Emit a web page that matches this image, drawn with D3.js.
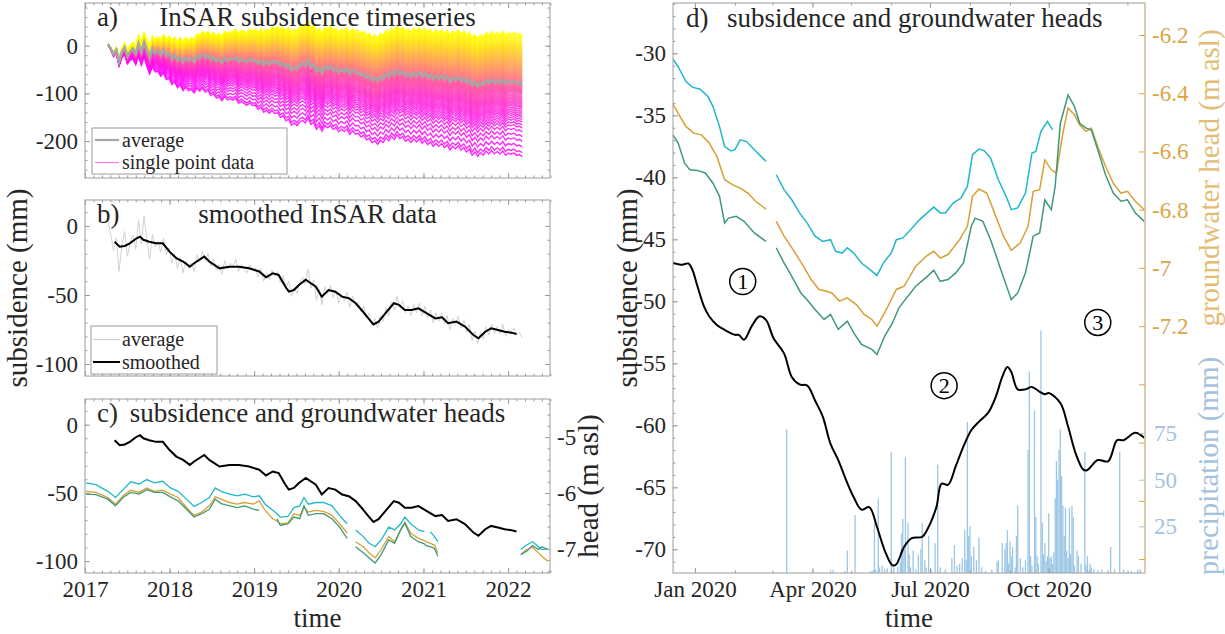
<!DOCTYPE html>
<html>
<head>
<meta charset="utf-8">
<script src="https://cdn.jsdelivr.net/npm/d3@7"></script>
<style>
  html, body { margin: 0; padding: 0; background: #fff; }
  svg { display: block; font-family: 'Liberation Serif', 'Times New Roman', serif; }
</style>
</head>
<body>
<svg id="chart" width="1225" height="634"></svg>
<script>
// ---------------- data ----------------
// InSAR network average, one acquisition every 12 days
const insarStart = "2017-04-10";
const insarStepDays = 12;
const insarAverage = [
  3, -6, -18, -9, -33, -14, -4, -22, -12, -7,
  -17, 4, -13, 7, -10, -24, -6, -15, -11, -19,
  -9, -21, -16, -27, -20, -31, -23, -34, -25, -31,
  -27, -33, -21, -26, -18, -25, -20, -29, -24, -32,
  -28, -35, -25, -31, -27, -29, -24, -33, -28, -31,
  -34, -28, -32, -30, -37, -31, -40, -34, -39, -32,
  -36, -33, -41, -36, -45, -40, -51, -45, -49, -41,
  -37, -42, -31, -45, -39, -54, -46, -57, -44, -49,
  -43, -52, -47, -56, -50, -54, -48, -59, -51, -57,
  -55, -62, -58, -67, -63, -72, -67, -74, -65, -69,
  -59, -65, -55, -61, -51, -59, -54, -63, -58, -65,
  -57, -63, -56, -65, -58, -67, -61, -70, -63, -69,
  -63, -71, -65, -75, -67, -72, -65, -74, -68, -77,
  -71, -83, -76, -85, -77, -82, -73, -79, -71, -78,
  -73, -78, -71, -80, -75, -77, -74, -79, -77, -81
];

// single points: deviation from the average reached at the last epoch (mm)
const pointEndOffsets = [
  103, 100, 97, 94, 91, 88, 85, 82, 80, 78, 76, 74, 72, 70, 68, 66, 64, 62, 60, 58,
  56, 54, 52, 50, 48, 46, 44, 42, 40, 38, 36, 34, 32, 30, 28, 26, 24, 22, 20, 18,
  16, 14, 12, 10, 8, 6, 4, 2, 0, -2, -4, -6, -8, -10, -12, -14, -16, -18, -20, -23,
  -26, -29, -32, -35, -38, -41, -44, -47, -50, -54, -58, -62, -66, -70, -75, -80,
  -86, -92, -100, -110, -120, -132, -144, -152
];
// share of that deviation already reached over time
const spreadYears = [2017.27, 2017.6, 2018.0, 2018.5, 2019.0, 2019.5, 2020.0, 2020.5, 2021.0, 2021.5, 2022.2];
const spreadShare = [0, 0.15, 0.35, 0.5, 0.62, 0.78, 0.82, 0.88, 0.92, 0.96, 1.0];

// smoothed subsidence (decimal year, mm)
const smoothYears = [
  2017.35, 2017.41, 2017.47, 2017.53, 2017.61, 2017.65, 2017.69, 2017.76, 2017.84, 2017.92,
  2018.00, 2018.08, 2018.16, 2018.24, 2018.29, 2018.35, 2018.41, 2018.47, 2018.59, 2018.71,
  2018.82, 2018.94, 2019.06, 2019.14, 2019.22, 2019.29, 2019.37, 2019.41, 2019.47, 2019.53,
  2019.61, 2019.73, 2019.80, 2019.88, 2019.96, 2020.04, 2020.12, 2020.20, 2020.27, 2020.35,
  2020.41, 2020.47, 2020.55, 2020.65, 2020.71, 2020.78, 2020.86, 2020.94, 2021.04, 2021.14,
  2021.22, 2021.29, 2021.39, 2021.49, 2021.59, 2021.65, 2021.73, 2021.80, 2021.88, 2021.96,
  2022.04, 2022.10
];
const smoothValues = [
  -11.4, -15, -14.5, -12.6, -8.9, -7.7, -10, -11.4, -12.6, -12.6,
  -18.6, -23.4, -25.8, -29.5, -27, -24.6, -22.2, -25.8, -30.7, -29.5,
  -29.5, -30.7, -33, -37.2, -34.3, -35.5, -44, -47.6, -46.4, -42.8,
  -39, -44, -51.2, -46.4, -47.6, -51.2, -52.4, -56, -60.9, -67,
  -71.3, -69.3, -63.3, -56, -57.2, -60.9, -60.9, -59.7, -63.3, -67,
  -66.2, -70.5, -69.3, -72.9, -79, -81.4, -76.6, -74.2, -75.4, -76.6,
  -77.3, -78.3
];

// groundwater heads for the full period (decimal year, m asl; null = no record)
const headYearsC = [
  2017.01, 2017.13, 2017.27, 2017.36, 2017.45, 2017.54, 2017.64, 2017.73, 2017.82, 2017.92,
  2018.01, 2018.10, 2018.20, 2018.29, 2018.38, 2018.47, 2018.54, 2018.61, 2018.71, 2018.80,
  2018.89, 2018.99, 2019.06, 2019.13, 2019.22, 2019.27, 2019.31, 2019.40, 2019.47, 2019.54,
  2019.59, 2019.64, 2019.73, 2019.82, 2019.92, 2020.01, 2020.10, 2020.15, 2020.20, 2020.29,
  2020.36, 2020.43, 2020.50, 2020.59, 2020.66, 2020.73, 2020.78, 2020.85, 2020.94, 2021.01,
  2021.03, 2021.08, 2021.13, 2021.17, 2021.60, 2022.15, 2022.22, 2022.29, 2022.36, 2022.40,
  2022.47
];
const headCyanC = [
  -5.82, -5.85, -5.97, -6.08, -5.94, -5.80, -5.84, -5.76, -5.82, -5.79,
  -5.91, -5.97, -6.11, -6.24, -6.17, -6.08, -5.91, -5.97, -6.02, -6.05,
  -6.02, -6.07, -6.05, -6.20, -6.31, -6.37, -6.43, -6.42, -6.26, -6.23,
  -6.08, -6.20, -6.17, -6.17, -6.23, -6.40, -6.55, null, -6.66, -6.78,
  -6.90, -6.96, -6.84, -6.61, -6.66, -6.55, -6.43, -6.55, -6.66, -6.69,
  null, -6.69, -6.78, -6.87, null, -7.01, -6.93, -6.87, -6.96, -7.01,
  -7.00
];
const headOrangeC = [
  -5.97, -5.99, -6.08, -6.20, -6.05, -5.95, -5.99, -5.91, -5.97, -5.95,
  -6.02, -6.08, -6.26, -6.40, -6.34, -6.23, -6.07, -6.11, -6.17, -6.20,
  -6.17, -6.20, -6.14, -6.31, -6.46, -6.50, -6.55, -6.54, -6.37, -6.40,
  -6.26, -6.34, -6.31, -6.33, -6.40, -6.55, -6.72, null, -6.87, -6.96,
  -7.07, -7.16, -7.01, -6.78, -6.87, -6.66, -6.52, -6.72, -6.81, -6.85,
  -6.87, -6.90, -6.93, -7.07, null, -7.10, -7.01, -6.97, -7.07, -7.13,
  -7.22
];
const headGreenC = [
  -6.02, -6.03, -6.11, -6.23, -6.08, -5.99, -6.02, -5.94, -5.99, -5.99,
  -6.07, -6.14, -6.29, -6.43, -6.37, -6.29, -6.11, -6.19, -6.23, -6.26,
  -6.23, -6.29, -6.31, null, null, -6.46, -6.58, -6.55, -6.43, -6.46,
  -6.23, -6.40, -6.37, -6.37, -6.46, -6.61, -6.81, null, -6.96, -7.07,
  -7.16, -7.25, -7.10, -6.84, -6.90, -6.66, -6.54, -6.78, -6.87, -6.91,
  -6.94, -6.96, -6.99, -7.13, null, -7.10, -7.04, -6.94, -7.01, -6.96,
  -7.01
];

// 2020 detail: days counted from 1 Jan 2020
const subsDays = [
  -17, -10, -5, -2, 2, 7, 11, 17, 23, 31, 34, 38, 44, 50, 55, 61, 69, 75, 81, 87,
  93, 99, 105, 111, 117, 123, 129, 135, 141, 147, 153, 156, 162, 168, 176, 180, 187, 191, 196, 202,
  208, 214, 220, 227, 233, 238, 242, 245, 250, 256, 261, 267, 271, 274, 283, 289, 295, 301, 304, 312,
  320, 327, 332, 341, 348
];
const subsValues = [
  -46.9, -47.05, -46.95, -47.45, -48.8, -50.4, -51.2, -51.9, -52.3, -52.7,
  -52.7, -53.1, -52.0, -51.2, -51.5, -53.0, -54.2, -56.1, -56.7, -56.8,
  -58.0, -59.3, -61.5, -62.8, -64.4, -65.8, -66.8, -66.6, -68.2, -70.1,
  -71.3, -71.2, -69.8, -69.1, -69.0, -68.4, -66.6, -64.7, -64.8, -63.3,
  -61.7, -60.4, -59.7, -59.0, -57.7, -56.1, -55.3, -55.7, -57.1, -57.1,
  -56.9, -57.3, -57.5, -57.4, -58.2, -60.1, -62.3, -63.6, -63.6, -62.8,
  -62.9, -61.2, -61.2, -60.6, -61.0
];

const cyanDays = [
  -17, -13, -7, -2, 4, 10, 14, 19, 23, 28, 31, 35, 40, 46, 55, 59, 63, 69, 75, 81,
  87, 93, 99, 105, 109, 114, 118, 123, 129, 137, 141, 146, 152, 156, 161, 167, 174, 180, 185, 190,
  194, 200, 206, 211, 215, 220, 224, 229, 235, 241, 245, 250, 256, 261, 264, 268, 273, 277
];
const cyanValues = [
  -6.283, -6.309, -6.36, -6.379, -6.386, -6.411, -6.446, -6.514, -6.583, -6.598,
  -6.594, -6.56, -6.566, -6.594, -6.634, null, -6.68, -6.731, -6.766, -6.811,
  -6.846, -6.891, -6.909, -6.903, -6.943, -6.949, -6.931, -6.949, -6.983, -7.011,
  -7.026, -6.983, -6.949, -6.903, -6.897, -6.869, -6.834, -6.811, -6.791, -6.811,
  -6.811, -6.777, -6.76, -6.72, -6.611, -6.592, -6.597, -6.623, -6.697, -6.754,
  -6.8, -6.794, -6.743, -6.606, -6.6, -6.531, -6.497, -6.526
];
const orangeDays = [
  -17, -13, -7, -1, 5, 11, 17, 23, 29, 35, 41, 47, 55, 59, 63, 69, 76, 84, 90, 96,
  102, 106, 112, 118, 125, 131, 137, 141, 147, 156, 162, 171, 179, 185, 190, 196, 205, 211, 215, 220,
  226, 232, 239, 245, 252, 258, 262, 267, 271, 276, 280, 285, 289, 294, 298, 303, 307, 312, 318, 324,
  330, 335, 341, 348
];
const orangeValues = [
  -6.437, -6.469, -6.514, -6.537, -6.543, -6.571, -6.617, -6.697, -6.714, -6.726,
  -6.743, -6.771, -6.798, null, -6.84, -6.891, -6.937, -6.994, -7.04, -7.074,
  -7.08, -7.086, -7.114, -7.103, -7.126, -7.16, -7.177, -7.2, -7.154, -7.074,
  -7.063, -6.994, -6.96, -6.943, -6.966, -6.954, -6.903, -6.857, -6.754, -6.729,
  -6.743, -6.811, -6.891, -6.94, -6.914, -6.857, -6.737, -6.731, -6.629, -6.663,
  -6.674, -6.537, -6.451, -6.474, -6.509, -6.531, -6.52, -6.583, -6.651, -6.709,
  -6.743, -6.737, -6.771, -6.8
];
const greenDays = [
  -17, -13, -8, -4, 2, 8, 14, 19, 23, 26, 32, 38, 46, 55, 59, 63, 69, 75, 82, 87,
  93, 100, 105, 111, 118, 123, 129, 137, 141, 147, 153, 158, 162, 171, 180, 185, 190, 196, 202, 208,
  214, 217, 223, 229, 236, 245, 250, 256, 262, 267, 271, 276, 279, 283, 289, 294, 298, 303, 307, 312,
  318, 324, 330, 335, 341, 348
];
const greenValues = [
  -6.543, -6.571, -6.64, -6.663, -6.665, -6.674, -6.709, -6.754, -6.846, -6.829,
  -6.823, -6.84, -6.88, -6.909, null, -6.931, -6.983, -7.029, -7.086, -7.11,
  -7.143, -7.177, -7.16, -7.211, -7.183, -7.223, -7.263, -7.28, -7.297, -7.234,
  -7.189, -7.137, -7.114, -7.063, -7.029, -7.008, -7.046, -7.04, -7.017, -6.983,
  -6.857, -6.829, -6.84, -6.903, -6.994, -7.109, -7.086, -7.017, -6.891, -6.88,
  -6.766, -6.8, -6.72, -6.503, -6.406, -6.446, -6.503, -6.52, -6.526, -6.594,
  -6.68, -6.743, -6.771, -6.766, -6.811, -6.84
];

// daily precipitation 2020 (day from 1 Jan, mm)
const rainDays = [
  71, 105, 107, 116, 118, 124, 136, 138, 139, 140, 142, 143, 145, 147, 149, 152, 154, 157, 159, 160,
  161, 162, 163, 165, 166, 167, 169, 171, 173, 175, 176, 178, 179, 181, 183, 186, 188, 190, 194, 199,
  201, 203, 205, 207, 209, 210, 211, 212, 213, 214, 216, 218, 220, 222, 225, 230, 234, 235, 238, 240,
  241, 242, 243, 244, 245, 246, 248, 249, 250, 252, 254, 256, 258, 259, 260, 261, 263, 264, 265, 266,
  268, 269, 270, 271, 272, 273, 274, 275, 276, 277, 278, 279, 280, 281, 282, 283, 284, 285, 286, 287,
  288, 289, 290, 291, 292, 293, 294, 296, 297, 299, 302, 303, 304, 306, 307, 309, 312, 315, 320, 322,
  325, 329, 332, 338, 343, 345
];
const rainMM = [
  77, 1.5, 1.6, 1, 12, 31, 1, 1.5, 27, 2, 40, 3, 4, 2, 2.5, 65, 3, 3.5, 6, 21,
  29, 13, 62, 27, 10, 3, 12, 2, 10, 13, 27, 7, 3, 20, 2, 16, 58, 3, 2, 8,
  15, 4, 5, 8, 23, 7, 81, 20, 25, 9, 14, 7, 19, 3, 1, 2, 6, 7, 16, 13,
  16, 23, 5, 17, 9, 14, 3, 20, 36, 8, 3, 7, 66, 108, 9, 4, 87, 30, 9, 5,
  130, 27, 10, 16, 6, 9, 32, 8, 9, 5, 11, 40, 60, 50, 66, 77, 52, 36, 20, 35,
  12, 8, 35, 10, 36, 30, 4, 12, 9, 5, 65, 4, 9, 5, 3, 2, 1.5, 2, 1.5, 14,
  2, 65, 2, 1, 2, 2
];

// circled period markers in the 2020 panel (day, mm)
const markerLabels = ["1", "2", "3"];
const markerDays = [37, 193, 312];
const markerValues = [-48.4, -56.8, -51.7];

// axis ticks
const yearTicks = [2017, 2018, 2019, 2020, 2021, 2022];
const ticksA = [-200, -100, 0];
const ticksB = [-100, -50, 0];
const ticksHeadC = [-7, -6, -5];
const ticksD = [-70, -65, -60, -55, -50, -45, -40, -35, -30];
const ticksHeadD = [-7.2, -7, -6.8, -6.6, -6.4, -6.2];
const ticksHeadDExtra = [-8, -7.8, -7.6, -7.4];
const ticksRain = [25, 50, 75];

// ---------------- drawing ----------------
const svg = d3.select("#chart");
const FONT = "'Liberation Serif', 'Times New Roman', serif";
const FRAME = "#9c9c9c";
const TXT = "#262626";
const C_CYAN = "#1fb8ca", C_ORANGE = "#d7a035", C_GREEN = "#3f9979";
const C_HEADAX = "#d9a545", C_HEADLAB = "#e3bd73", C_RAINAX = "#a4c2dc", C_RAIN = "#9cc7e5";

const yearToDate = y => {
  const yr = Math.floor(y);
  const a = Date.UTC(yr, 0, 1), b = Date.UTC(yr + 1, 0, 1);
  return new Date(a + (y - yr) * (b - a));
};
const base2020 = Date.UTC(2020, 0, 1);
const dayToDate = d => new Date(base2020 + d * 864e5);

const PA = { l: 85, r: 550, t: 3, b: 178 };
const PB = { l: 85, r: 550, t: 200, b: 376 };
const PC = { l: 85, r: 550, t: 399, b: 573 };
const PD = { l: 673, r: 1145, t: 3, b: 573 };

const xYears = d3.scaleUtc().domain([Date.UTC(2017, 0, 1), Date.UTC(2022, 6, 1)]).range([PA.l, PA.r]);
const yA = d3.scaleLinear().domain([-277.6, 89.6]).range([PA.b, PA.t]);
const yB = d3.scaleLinear().domain([-108.7, 18.8]).range([PB.b, PB.t]);
const yC = d3.scaleLinear().domain([-108.7, 18.8]).range([PC.b, PC.t]);
const yCHead = d3.scaleLinear().domain([-7.43, -4.32]).range([PC.b, PC.t]);
const xD = d3.scaleUtc().domain([Date.UTC(2019, 11, 15), Date.UTC(2020, 11, 14, 14)]).range([PD.l, PD.r]);
const yD = d3.scaleLinear().domain([-71.91, -25.94]).range([PD.b, PD.t]);
const yDHead = d3.scaleLinear().domain([-8.048, -6.09]).range([PD.b, PD.t]);
const yDRain = d3.scaleLinear().domain([0, 305.5]).range([PD.b, PD.t]);

// series records
const insarDates = insarAverage.map((_, i) => d3.utcDay.offset(new Date(insarStart + "T00:00:00Z"), i * insarStepDays));
const avgRecs = insarAverage.map((v, i) => ({ t: insarDates[i], v }));
const smoothRecs = smoothYears.map((y, i) => ({ t: yearToDate(y), v: smoothValues[i] }));
const headC = [headCyanC, headOrangeC, headGreenC].map(arr => headYearsC.map((y, i) => ({ t: yearToDate(y), v: arr[i] })));
const subsRecs = subsDays.map((d, i) => ({ t: dayToDate(d), v: subsValues[i] }));
const headD = [[cyanDays, cyanValues], [orangeDays, orangeValues], [greenDays, greenValues]]
  .map(([ds, vs]) => ds.map((d, i) => ({ t: dayToDate(d), v: vs[i] })));

// clip paths
const defs = svg.append("defs");
function clip(id, P) {
  defs.append("clipPath").attr("id", id).append("rect")
    .attr("x", P.l).attr("y", P.t).attr("width", P.r - P.l).attr("height", P.b - P.t);
  return `url(#${id})`;
}
const clipA = clip("clipA", PA), clipB = clip("clipB", PB), clipC = clip("clipC", PC), clipD = clip("clipD", PD);

function axis(P, scale, orient, values, opt = {}) {
  const { len = 5, labels = false, fmt = String, color = FRAME, textColor = TXT, pad = 7, size = 23 } = opt;
  const fn = { left: d3.axisLeft, right: d3.axisRight, top: d3.axisTop, bottom: d3.axisBottom }[orient];
  const pos = { left: [P.l, 0], right: [P.r, 0], top: [0, P.t], bottom: [0, P.b] }[orient];
  const g = svg.append("g").attr("transform", `translate(${pos[0]},${pos[1]})`);
  g.call(fn(scale).tickValues(values).tickSizeInner(-len).tickSizeOuter(0).tickPadding(pad)
    .tickFormat(labels ? fmt : () => ""));
  g.select(".domain").remove();
  g.attr("font-family", FONT).attr("font-size", size);
  g.selectAll(".tick line").attr("stroke", color).attr("stroke-width", 1);
  g.selectAll(".tick text").attr("fill", textColor);
  return g;
}
function frame(P, rightColor) {
  svg.append("rect").attr("x", P.l).attr("y", P.t).attr("width", P.r - P.l).attr("height", P.b - P.t)
    .attr("fill", "none").attr("stroke", FRAME).attr("stroke-width", 1);
  if (rightColor) {
    svg.append("line").attr("x1", P.r).attr("x2", P.r).attr("y1", P.t).attr("y2", P.b)
      .attr("stroke", rightColor).attr("stroke-width", 1);
  }
}
function text(x, y, str, opt = {}) {
  const { size = 27, anchor = "start", fill = TXT, rotate = false } = opt;
  const t = svg.append("text").attr("font-family", FONT).attr("font-size", size)
    .attr("fill", fill).attr("text-anchor", anchor).text(str);
  if (rotate) t.attr("transform", `translate(${x},${y}) rotate(-90)`).attr("dy", "0.35em");
  else t.attr("x", x).attr("y", y);
  return t;
}

const yearDates = yearTicks.map(y => Date.UTC(y, 0, 1));
const minorYearDates = d3.range(2017, 2022.55, 0.1).map(y => yearToDate(Math.round(y * 10) / 10));
function timeAxes(P, withLabels) {
  axis(P, xYears, "bottom", minorYearDates, { len: 2.5 });
  axis(P, xYears, "top", minorYearDates, { len: 2.5 });
  axis(P, xYears, "bottom", yearDates, { labels: withLabels, fmt: d3.utcFormat("%Y"), pad: 8 });
  axis(P, xYears, "top", yearDates);
}

// ---------- panel a ----------
const gA = svg.append("g").attr("clip-path", clipA);
const share = d3.scaleLinear().domain(spreadYears).range(spreadShare).clamp(true);
const tYear = t => 1970 + (t - Date.UTC(1970, 0, 1)) / (365.25 * 864e5);
const spring = d3.interpolateRgb("#ff00ff", "#ffff00");
const lineA = d3.line().x(d => xYears(d.t)).y(d => yA(d.v));
const nPts = pointEndOffsets.length;
pointEndOffsets.slice().reverse().forEach((off, k) => {
  const recs = avgRecs.map(d => ({ t: d.t, v: d.v + off * share(tYear(d.t)) }));
  gA.append("path").datum(recs).attr("d", lineA).attr("fill", "none")
    .attr("stroke", spring(k / (nPts - 1))).attr("stroke-width", 1.4).attr("stroke-opacity", 0.85);
});
gA.append("path").datum(avgRecs).attr("d", lineA).attr("fill", "none")
  .attr("stroke", "#a6a6a6").attr("stroke-width", 2.6);
frame(PA);
timeAxes(PA, false);
const minorA = d3.range(-260, 81, 20);
axis(PA, yA, "left", minorA, { len: 2.5 });
axis(PA, yA, "right", minorA, { len: 2.5 });
axis(PA, yA, "left", ticksA, { labels: true });
axis(PA, yA, "right", ticksA);
text(PA.l + 12, PA.t + 23, "a)");
text((PA.l + PA.r) / 2, PA.t + 23, "InSAR subsidence timeseries", { anchor: "middle" });
// legend a
svg.append("rect").attr("x", 92).attr("y", 128).attr("width", 195).attr("height", 46)
  .attr("fill", "#fff").attr("stroke", FRAME);
svg.append("line").attr("x1", 95).attr("x2", 119).attr("y1", 140).attr("y2", 140)
  .attr("stroke", "#a6a6a6").attr("stroke-width", 2.2);
svg.append("line").attr("x1", 95).attr("x2", 119).attr("y1", 162.5).attr("y2", 162.5)
  .attr("stroke", "#ff00ff").attr("stroke-opacity", 0.5).attr("stroke-width", 1.2);
text(122, 146.5, "average", { size: 20 });
text(122, 169, "single point data", { size: 20 });

// ---------- panel b ----------
const gB = svg.append("g").attr("clip-path", clipB);
const lineB = d3.line().x(d => xYears(d.t)).y(d => yB(d.v));
gB.append("path").datum(avgRecs).attr("d", lineB).attr("fill", "none")
  .attr("stroke", "#cdcdcd").attr("stroke-width", 0.9);
gB.append("path").datum(smoothRecs).attr("d", lineB).attr("fill", "none")
  .attr("stroke", "#000").attr("stroke-width", 2);
frame(PB);
timeAxes(PB, false);
const minorB = d3.range(-100, 11, 10);
axis(PB, yB, "left", minorB, { len: 2.5 });
axis(PB, yB, "right", minorB, { len: 2.5 });
axis(PB, yB, "left", ticksB, { labels: true });
axis(PB, yB, "right", ticksB);
text(PB.l + 12, PB.t + 23, "b)");
text((PB.l + PB.r) / 2, PB.t + 23, "smoothed InSAR data", { anchor: "middle" });
svg.append("rect").attr("x", 91).attr("y", 326).attr("width", 126).attr("height", 48)
  .attr("fill", "#fff").attr("stroke", FRAME);
svg.append("line").attr("x1", 93).attr("x2", 120).attr("y1", 339.5).attr("y2", 339.5)
  .attr("stroke", "#cdcdcd").attr("stroke-width", 1);
svg.append("line").attr("x1", 93).attr("x2", 120).attr("y1", 362).attr("y2", 362)
  .attr("stroke", "#000").attr("stroke-width", 2);
text(122, 346, "average", { size: 20 });
text(122, 368.5, "smoothed", { size: 20 });
text(17, (PB.t + PB.b) / 2, "subsidence (mm)", { size: 29, anchor: "middle", rotate: true });

// ---------- panel c ----------
const gC = svg.append("g").attr("clip-path", clipC);
const lineCHead = d3.line().defined(d => d.v !== null).x(d => xYears(d.t)).y(d => yCHead(d.v));
[C_CYAN, C_ORANGE, C_GREEN].forEach((c, i) => {
  gC.append("path").datum(headC[i]).attr("d", lineCHead).attr("fill", "none")
    .attr("stroke", c).attr("stroke-width", 1.3);
});
gC.append("path").datum(smoothRecs).attr("d", d3.line().x(d => xYears(d.t)).y(d => yC(d.v)))
  .attr("fill", "none").attr("stroke", "#000").attr("stroke-width", 2);
frame(PC);
timeAxes(PC, true);
axis(PC, yC, "left", minorB, { len: 2.5 });
axis(PC, yC, "left", ticksB, { labels: true });
axis(PC, yCHead, "right", d3.range(-7.4, -4.39, 0.2).map(v => Math.round(v * 10) / 10), { len: 2.5 });
axis(PC, yCHead, "right", ticksHeadC, { labels: true });
text(PC.l + 12, PC.t + 23, "c)");
text((PC.l + PC.r) / 2, PC.t + 23, "subsidence and groundwater heads", { anchor: "middle" });
text(588, (PC.t + PC.b) / 2, "head (m asl)", { size: 29, anchor: "middle", rotate: true });
text((PC.l + PC.r) / 2, 627, "time", { size: 27, anchor: "middle" });

// ---------- panel d ----------
const gD = svg.append("g").attr("clip-path", clipD);
gD.selectAll("rect.rain").data(rainDays).join("rect").attr("class", "rain")
  .attr("x", d => xD(dayToDate(d)) - 0.65).attr("width", 1.3)
  .attr("y", (d, i) => yDRain(rainMM[i])).attr("height", (d, i) => yDRain(0) - yDRain(rainMM[i]))
  .attr("fill", C_RAIN);
const lineDHead = d3.line().defined(d => d.v !== null).x(d => xD(d.t)).y(d => yDHead(d.v));
[C_CYAN, C_ORANGE, C_GREEN].forEach((c, i) => {
  gD.append("path").datum(headD[i]).attr("d", lineDHead).attr("fill", "none")
    .attr("stroke", c).attr("stroke-width", 1.5);
});
gD.append("path").datum(subsRecs)
  .attr("d", d3.line().curve(d3.curveCatmullRom).x(d => xD(d.t)).y(d => yD(d.v)))
  .attr("fill", "none").attr("stroke", "#000").attr("stroke-width", 2);
markerLabels.forEach((lab, i) => {
  const cx = xD(dayToDate(markerDays[i])), cy = yD(markerValues[i]);
  svg.append("circle").attr("cx", cx).attr("cy", cy).attr("r", 13)
    .attr("fill", "none").attr("stroke", "#000").attr("stroke-width", 1.5);
  svg.append("text").attr("x", cx).attr("y", cy).attr("dy", "0.35em").attr("text-anchor", "middle")
    .attr("font-family", FONT).attr("font-size", 22).attr("fill", "#000").text(lab);
});
frame(PD, "#e6c98d");
const monthDates = d3.range(0, 12).map(m => Date.UTC(2020, m, 1));
const quarterDates = [0, 3, 6, 9].map(m => Date.UTC(2020, m, 1));
axis(PD, xD, "bottom", monthDates, { len: 2.5 });
axis(PD, xD, "top", monthDates, { len: 2.5 });
axis(PD, xD, "bottom", quarterDates, { labels: true, fmt: d3.utcFormat("%b %Y"), pad: 8 });
axis(PD, xD, "top", quarterDates);
axis(PD, yD, "left", d3.range(-71, -25, 1), { len: 2.5 });
axis(PD, yD, "left", ticksD, { labels: true });
axis(PD, yDHead, "right", ticksHeadDExtra, { color: C_HEADAX, len: 6 });
axis(PD, yDHead, "right", ticksHeadD, { labels: true, color: C_HEADAX, textColor: C_HEADAX, len: 6 });
axis(PD, yDRain, "right", ticksRain, { labels: true, color: C_RAINAX, textColor: C_RAINAX, len: 6, pad: 9 });
text(PD.l + 13, PD.t + 24, "d)");
text(727, PD.t + 24, "subsidence and groundwater heads");
text(627, (PD.t + PD.b) / 2, "subsidence (mm)", { size: 29, anchor: "middle", rotate: true });
text(1209, 178, "groundwater head (m asl)", { size: 29, anchor: "middle", rotate: true, fill: C_HEADLAB });
text(1208, 466, "precipitation (mm)", { size: 29, anchor: "middle", rotate: true, fill: C_RAINAX });
text((PD.l + PD.r) / 2, 627, "time", { size: 27, anchor: "middle" });
</script>
</body>
</html>
